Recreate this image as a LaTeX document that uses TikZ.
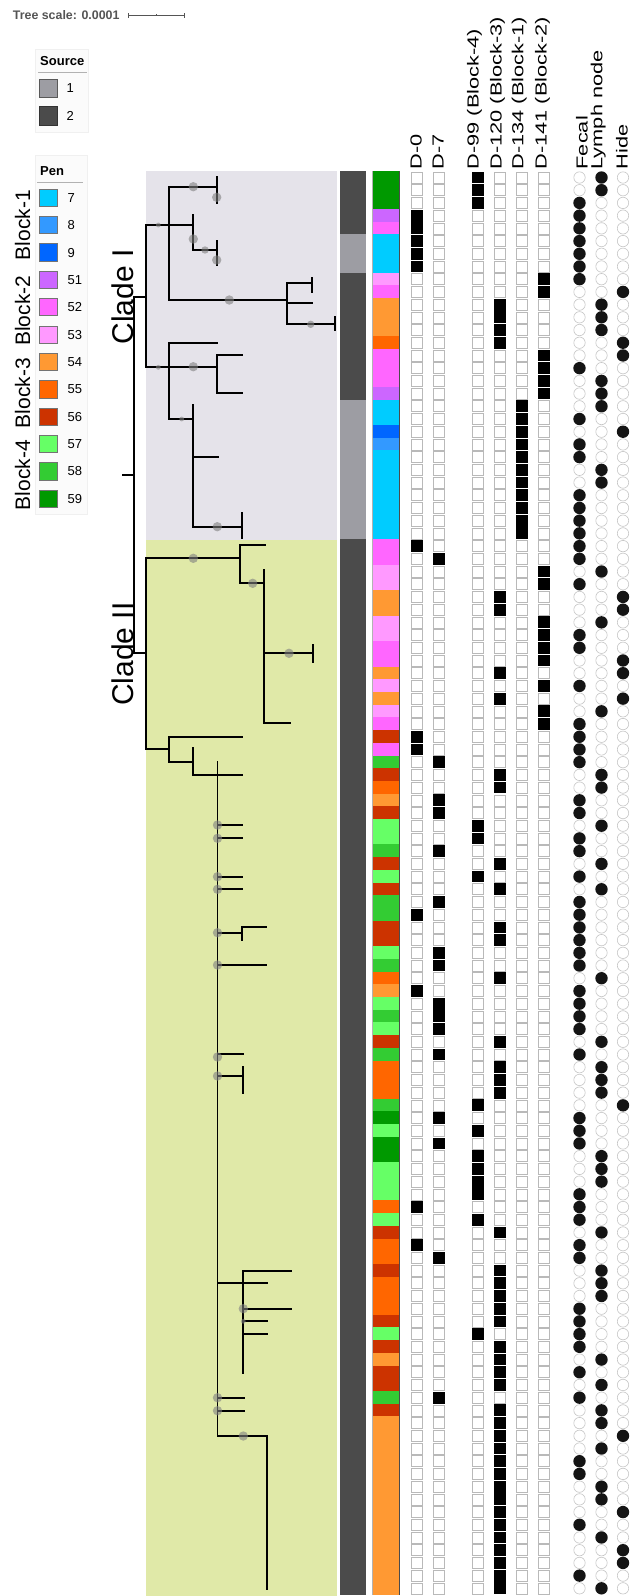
\documentclass[tikz,border=0pt]{standalone}
\usepackage{fontspec}
\setmainfont{Liberation Sans}
\definecolor{pc7}{HTML}{00CCFF}
\definecolor{pc8}{HTML}{3399FF}
\definecolor{pc9}{HTML}{0066FF}
\definecolor{pc51}{HTML}{CC66FF}
\definecolor{pc52}{HTML}{FF66FF}
\definecolor{pc53}{HTML}{FF99FF}
\definecolor{pc54}{HTML}{FF9933}
\definecolor{pc55}{HTML}{FF6600}
\definecolor{pc56}{HTML}{CC3300}
\definecolor{pc57}{HTML}{66FF66}
\definecolor{pc58}{HTML}{33CC33}
\definecolor{pc59}{HTML}{009900}
\definecolor{sc1}{HTML}{9D9DA3}
\definecolor{sc2}{HTML}{4B4B4B}
\definecolor{cladeone}{HTML}{E5E3EA}
\definecolor{cladetwo}{HTML}{E0E9A8}
\definecolor{scalegray}{HTML}{555555}
\newcommand{\hdrtext}[1]{\scalebox{1.36}[1]{\fontsize{16}{16}\selectfont #1}}
\begin{document}
\begin{tikzpicture}[x=1pt,y=-1pt,
  br/.style={line width=1.9pt, line cap=rect, black},
  bigdot/.style={fill=gray, fill opacity=0.6},
  hdr/.style={rotate=90, inner sep=0pt, anchor=base west},
  blk/.style={rotate=90, inner sep=0pt, font=\fontsize{21}{21}\selectfont},
  clade/.style={rotate=90, inner sep=0pt, anchor=base, font=\fontsize{30}{30}\selectfont},
  legtitle/.style={inner sep=0pt, anchor=west, font=\fontsize{13}{13}\selectfont\bfseries},
  leglab/.style={inner sep=0pt, anchor=west, font=\fontsize{13}{13}\selectfont}]
\useasboundingbox (0,0) rectangle (636,1596);
\fill[white] (0,0) rectangle (636,1596);

% ---- tree scale ----
\node[inner sep=0pt, anchor=west, text=scalegray, font=\fontsize{12.4}{12.4}\selectfont\bfseries] (tscale) at (12.7,15) {Tree scale: 0.0001};
\coordinate (sbA) at (128.3,15);
\coordinate (sbB) at (184,15);
\draw[scalegray, line width=0.8pt] (sbA) -- (sbB);
\draw[scalegray, line width=0.8pt] ([yshift=-2.5pt]sbA) -- ([yshift=2.5pt]sbA);
\draw[scalegray, line width=0.8pt] ([yshift=-2.5pt]sbB) -- ([yshift=2.5pt]sbB);
\draw[scalegray, line width=0.8pt] (156.2,14) -- (156.2,16);

% ---- source legend ----
\draw[gray!12, fill=gray!3] (35,49) rectangle (88.5,132);
\node[legtitle] (srcT) at (40,61) {Source};
\draw[gray!60, line width=0.8pt] (38,72.7) -- (87,72.7);
\filldraw[draw=gray!70!black, fill=sc1, line width=0.5pt] (39,79) rectangle (57.3,97.3);
\node[leglab] (src1) at (66.5,88.2) {1};
\filldraw[draw=black!80, fill=sc2, line width=0.5pt] (39,106.7) rectangle (57.3,125);
\node[leglab] (src2) at (66.5,115.9) {2};

% ---- pen legend ----
\draw[gray!12, fill=gray!3] (35,155) rectangle (87.5,514);
\node[legtitle] (penT) at (40,170.7) {Pen};
\draw[gray!60, line width=0.8pt] (37,182.3) -- (83,182.3);
\foreach \pi/\pn in {0/7,1/8,2/9,3/51,4/52,5/53,6/54,7/55,8/56,9/57,10/58,11/59}{
  \pgfmathsetmacro\ptop{189+27.36*\pi}
  \filldraw[draw=black!55, fill=pc\pn, line width=0.5pt] (39.3,\ptop) rectangle (57.3,\ptop+17.3);
  \node[leglab] (pen\pn) at (67.5,\ptop+8.8) {\pn};
}
\node[blk] (blk1) at (22.5,225) {Block-1};
\node[blk] (blk2) at (22.5,310.8) {Block-2};
\node[blk] (blk3) at (22.5,393.3) {Block-3};
\node[blk] (blk4) at (22.5,475) {Block-4};

% ---- clade backgrounds ----
\fill[cladeone] (145.5,170.5) rectangle (336.5,539.8);
\fill[cladetwo] (145.5,539.8) rectangle (336.5,1595.5);

\node[clade] (cladeI) at (133.3,297) {Clade I};
\node[clade] (cladeII) at (133.3,654) {Clade II};

% ---- tree: clade I ----
\draw[br] (122.7,475) -- (134.3,475);
\draw[br] (134.3,296.7) -- (134.3,653.3);
\draw[br] (134.3,296.7) -- (146,296.7);
\draw[br] (146,225) -- (146,367.3);
\draw[br] (146,225) -- (169.3,225);
\draw[br] (169.3,186.7) -- (169.3,300);
\draw[br] (169.3,186.7) -- (216.7,186.7);
\draw[br] (216.7,176.7) -- (216.7,203.3);
\draw[br] (169.3,225) -- (193.3,225);
\draw[br] (193.3,215) -- (193.3,250);
\draw[br] (193.3,250) -- (216.7,250);
\draw[br] (216.7,241) -- (216.7,265);
\draw[br] (169.3,300) -- (286.7,300);
\draw[br] (286.7,283.3) -- (286.7,324.3);
\draw[br] (286.7,283.3) -- (311.7,283.3);
\draw[br] (311.7,278.3) -- (311.7,291.7);
\draw[br] (286.7,303.3) -- (311.7,303.3);
\draw[br] (286.7,324.3) -- (335,324.3);
\draw[br] (335,316.7) -- (335,330);
\draw[br] (146,367.3) -- (169.3,367.3);
\draw[br] (169.3,343.3) -- (169.3,419);
\draw[br] (169.3,343.3) -- (217.3,343.3);
\draw[br] (169.3,367.3) -- (216.7,367.3);
\draw[br] (216.7,355) -- (216.7,393.3);
\draw[br] (216.7,355) -- (241.7,355);
\draw[br] (216.7,393.3) -- (241.7,393.3);
\draw[br] (169.3,419) -- (193.3,419);
\draw[br] (193.3,405) -- (193.3,526.7);
\draw[br] (193.3,456.7) -- (218.3,456.7);
\draw[br] (193.3,526.7) -- (241.7,526.7);
\draw[br] (241.7,513.3) -- (241.7,538.3);

% ---- tree: clade II ----
\draw[br] (134.3,653.3) -- (146,653.3);
\draw[br] (146,558.3) -- (146,749.3);
\draw[br] (146,558.3) -- (240,558.3);
\draw[br] (240,545) -- (240,583.3);
\draw[br] (240,545) -- (265,545);
\draw[br] (240,583.3) -- (264.3,583.3);
\draw[br] (264.3,570) -- (264.3,723.3);
\draw[br] (264.3,653.3) -- (312.7,653.3);
\draw[br] (312.7,645) -- (312.7,661.7);
\draw[br] (264.3,723.3) -- (290,723.3);
\draw[br] (146,749.3) -- (169.3,749.3);
\draw[br] (169.3,736.7) -- (169.3,761.7);
\draw[br] (169.3,736.7) -- (241.7,736.7);
\draw[br] (169.3,761.7) -- (193.3,761.7);
\draw[br] (193.3,748.3) -- (193.3,775);
\draw[br] (193.3,775) -- (241.7,775);
\draw[br] (217.5,761.7) -- (217.5,1436);
\draw[br] (217.5,825) -- (241.7,825);
\draw[br] (217.5,838.3) -- (241.7,838.3);
\draw[br] (217.5,876.7) -- (241.7,876.7);
\draw[br] (217.5,889.3) -- (241.7,889.3);
\draw[br] (217.5,932.7) -- (241.7,932.7);
\draw[br] (241.7,926.7) -- (241.7,940);
\draw[br] (241.7,926.7) -- (265.7,926.7);
\draw[br] (217.5,965) -- (265.7,965);
\draw[br] (217.5,1054.3) -- (242.7,1054.3);
\draw[br] (217.5,1076) -- (242.7,1076);
\draw[br] (242.7,1066.7) -- (242.7,1092.7);
\draw[br] (217.5,1283.3) -- (267.3,1283.3);
\draw[br] (243.3,1270.7) -- (243.3,1372.7);
\draw[br] (243.3,1270.7) -- (290.7,1270.7);
\draw[br] (243.3,1308.7) -- (290.7,1308.7);
\draw[br] (243.3,1321.3) -- (267.3,1321.3);
\draw[br] (243.3,1334) -- (267.3,1334);
\draw[br] (217.5,1397.7) -- (244,1397.7);
\draw[br] (217.5,1410.7) -- (244,1410.7);
\draw[br] (217.5,1436) -- (267.3,1436);
\draw[br] (267.3,1436) -- (267.3,1589.3);

% ---- support dots ----
\foreach \dx/\dy in {193.3/186.7,216.7/197.3,193.3/239,216.7/260,229.3/300,193.3/366.7,217.3/526.7,
  193.3/558.3,252.7/583.3,289/653.3,217.5/825,217.5/838.3,217.5/876.7,217.5/889.3,217.5/932.7,
  217.5/965,217.5/1057,217.5/1076,243.3/1308.7,217.5/1397.7,217.5/1410.7,243.3/1436}
  {\fill[bigdot] (\dx,\dy) circle (4.7);}
\foreach \dx/\dy in {205/250,310.7/324.3}
  {\fill[bigdot] (\dx,\dy) circle (3.7);}
\foreach \dx/\dy in {158.3/225,158.3/367.3,181.7/419,243.3/1321.3}
  {\fill[bigdot] (\dx,\dy) circle (2.4);}

% ---- column headers ----
\node[hdr] (hD0) at (421.7,169.5) {\hdrtext{D-0}};
\node[hdr] (hD7) at (443.5,169.5) {\hdrtext{D-7}};
\node[hdr] (hD99) at (478.5,169.5) {\hdrtext{D-99 (Block-4)}};
\node[hdr] (hD120) at (501.6,169.5) {\hdrtext{D-120 (Block-3)}};
\node[hdr] (hD134) at (523.4,169.5) {\hdrtext{D-134 (Block-1)}};
\node[hdr] (hD141) at (546.6,169.5) {\hdrtext{D-141 (Block-2)}};
\node[hdr] (hFec) at (587.5,169.5) {\hdrtext{Fecal}};
\node[hdr] (hLym) at (602.3,169.5) {\hdrtext{Lymph node}};
\node[hdr] (hHid) at (627.5,169.5) {\hdrtext{Hide}};

% ---- data rows: row/source/pen/day/sample ----
\foreach \rk/\rs/\rp/\rd/\rt in {
1/2/59/3/2,2/2/59/3/2,3/2/59/3/1,4/2/51/1/1,5/2/52/1/1,6/1/7/1/1,7/1/7/1/1,8/1/7/1/1,
9/2/53/6/1,10/2/52/6/3,11/2/54/4/2,12/2/54/4/2,13/2/54/4/2,14/2/55/4/3,15/2/52/6/3,16/2/52/6/1,
17/2/52/6/2,18/2/51/6/2,19/1/7/5/2,20/1/7/5/1,21/1/9/5/3,22/1/8/5/1,23/1/7/5/1,24/1/7/5/2,
25/1/7/5/2,26/1/7/5/1,27/1/7/5/1,28/1/7/5/1,29/1/7/5/1,30/2/52/1/1,31/2/52/2/1,32/2/53/6/2,
33/2/53/6/1,34/2/54/4/3,35/2/54/4/3,36/2/53/6/2,37/2/53/6/1,38/2/52/6/1,39/2/52/6/3,40/2/54/4/3,
41/2/53/6/1,42/2/54/4/3,43/2/53/6/2,44/2/52/6/1,45/2/56/1/1,46/2/52/1/1,47/2/58/2/1,48/2/56/4/2,
49/2/55/4/2,50/2/54/2/1,51/2/56/2/1,52/2/57/3/2,53/2/57/3/1,54/2/58/2/1,55/2/56/4/2,56/2/57/3/1,
57/2/56/4/2,58/2/58/2/1,59/2/58/1/1,60/2/56/4/1,61/2/56/4/1,62/2/57/2/1,63/2/58/2/1,64/2/55/4/2,
65/2/54/1/1,66/2/57/2/1,67/2/58/2/1,68/2/57/2/1,69/2/56/4/2,70/2/58/2/1,71/2/55/4/2,72/2/55/4/2,
73/2/55/4/2,74/2/58/3/3,75/2/59/2/1,76/2/57/3/1,77/2/59/2/1,78/2/59/3/2,79/2/57/3/2,80/2/57/3/2,
81/2/57/3/1,82/2/55/1/1,83/2/57/3/1,84/2/56/4/2,85/2/55/1/1,86/2/55/2/1,87/2/56/4/2,88/2/55/4/2,
89/2/55/4/2,90/2/55/4/1,91/2/56/4/1,92/2/57/3/1,93/2/56/4/1,94/2/54/4/2,95/2/56/4/1,96/2/56/4/2,
97/2/58/2/1,98/2/56/4/2,99/2/54/4/2,100/2/54/4/3,101/2/54/4/2,102/2/54/4/1,103/2/54/4/1,104/2/54/4/2,
105/2/54/4/2,106/2/54/4/3,107/2/54/4/1,108/2/54/4/2,109/2/54/4/3,110/2/54/4/3,111/2/54/4/1,112/2/54/4/2}{
  \pgfmathsetmacro\yt{171.15+(\rk-1)*12.71}
  \pgfmathsetmacro\yc{\yt+6.355}
  \fill[sc\rs] (340,\yt-0.3) rectangle (366,\yt+13.0);
  \fill[pc\rp] (372.7,\yt-0.3) rectangle (399.3,\yt+13.0);
  \foreach \cc/\cx in {1/417,2/439,3/478,4/500,5/522,6/544}{
    \ifnum\cc=\rd\relax
      \fill[black] (\cx-5.8,\yc-5.9) rectangle (\cx+5.8,\yc+5.9);
    \else
      \filldraw[draw=gray!55, fill=white, line width=0.6pt] (\cx-5.5,\yc-5.5) rectangle (\cx+5.5,\yc+5.5);
    \fi
  }
  \foreach \cc/\cx in {1/579.5,2/601.5,3/623}{
    \ifnum\cc=\rt\relax
      \fill[black!92] (\cx,\yc) circle (6.2);
    \else
      \draw[gray!45, line width=0.6pt] (\cx,\yc) circle (5.7);
    \fi
  }
}
\draw[gray!60, line width=0.5pt] (372.7,171.15) -- (372.7,1594.7);
\draw[black!70, line width=0.6pt] (399.3,171.15) -- (399.3,1594.7);
\end{tikzpicture}
\end{document}
